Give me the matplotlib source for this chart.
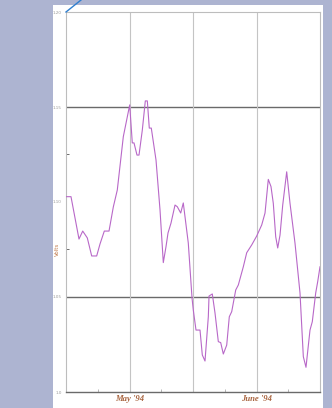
import matplotlib
matplotlib.use("Agg")
import matplotlib.pyplot as plt
from matplotlib.patches import Rectangle
from matplotlib.lines import Line2D

# Daily readings, day 0 = mid April 1994
days = [0.0, 1.22, 3.17, 4.08, 5.20, 6.27, 7.49, 8.30, 9.35, 10.50,
        11.55, 12.52, 13.99, 15.55, 16.18, 16.60, 17.33, 17.82, 18.63, 19.36,
        19.85, 20.33, 20.82, 21.97, 22.95, 23.75, 24.41, 24.90, 25.63, 26.61,
        27.17, 28.00, 28.63, 29.85, 30.76, 31.07, 31.73, 32.71, 33.27, 33.93,
        34.74, 34.91, 35.71, 36.37, 37.18, 37.76, 38.40, 39.23, 39.86, 40.45,
        41.43, 42.06, 43.28, 44.11, 45.33, 46.55, 47.77, 48.58, 49.38, 50.04,
        50.60, 51.19, 51.68, 52.24, 52.90, 53.87, 54.68, 55.90, 57.12, 57.93,
        58.58, 59.56, 60.12, 60.95, 61.44, 62.00]
volts = [1.1028, 1.1028, 1.0805, 1.0847, 1.0811, 1.0716, 1.0716, 1.0779, 1.0847, 1.0847,
         1.0974, 1.1063, 1.1344, 1.1511, 1.1311, 1.1311, 1.1247, 1.1247, 1.1379, 1.1532,
         1.1532, 1.1389, 1.1389, 1.1221, 1.0958, 1.0681, 1.0765, 1.0837, 1.0889, 1.0984,
         1.0975, 1.0942, 1.0995, 1.0784, 1.0495, 1.0432, 1.0326, 1.0326, 1.0195, 1.0163,
         1.0396, 1.0505, 1.0516, 1.0416, 1.0265, 1.0260, 1.0200, 1.0247, 1.0396, 1.0423,
         1.0537, 1.0563, 1.0659, 1.0733, 1.0774, 1.0821, 1.0879, 1.0942, 1.1119, 1.1081,
         1.0993, 1.0817, 1.0758, 1.0826, 1.0984, 1.1159, 1.0993, 1.0783, 1.0521, 1.0186,
         1.0130, 1.0326, 1.0370, 1.0521, 1.0581, 1.0659]

y_ticks = [1.00, 1.05, 1.10, 1.15, 1.20]
y_tick_labels = ["1.0", "1.05", "1.10", "1.15", "1.20"]
y_minor = [1.075, 1.125]
x_major = [15.5, 31.0, 46.5]
x_minor = [7.75, 23.25, 38.75, 54.25]
month_pos = [15.5, 46.5]
month_labels = ["May '94", "June '94"]

W, H = 332, 408
fig = plt.figure(figsize=(W / 100, H / 100), dpi=100)
fig.patch.set_facecolor("#adb4d1")

# white card behind the chart
fig.add_artist(Rectangle((53 / W, 0), (323 - 53) / W, (408 - 5) / H,
                         transform=fig.transFigure, facecolor="white",
                         edgecolor="none", zorder=0))

ax = fig.add_axes([66 / W, 16 / H, (320 - 66) / W, (392 - 12) / H])
ax.set_facecolor("white")
ax.set_xlim(0, 62)
ax.set_ylim(1.00, 1.20)

# reference lines
for yv in (1.05, 1.15):
    ax.axhline(yv, color="#6a6a6a", lw=1.0, zorder=1)
for xv in x_major:
    ax.axvline(xv, color="#c4c4c4", lw=0.8, zorder=1)

ax.plot(days, volts, color="#b868c8", lw=0.8, zorder=3)

for side in ("left", "right", "top"):
    ax.spines[side].set_color("#bdbdbd")
    ax.spines[side].set_linewidth(0.8)
ax.spines["bottom"].set_color("#6a6a6a")
ax.spines["bottom"].set_linewidth(1.0)

ax.set_yticks(y_ticks)
ax.set_yticklabels(y_tick_labels)
ax.set_yticks(y_minor, minor=True)
ax.tick_params(axis="y", which="major", length=0, labelsize=3, labelcolor="#9a9a9a", pad=3)
ax.tick_params(axis="y", which="minor", length=2, direction="in", color="#555555", width=0.6)

ax.set_xticks(month_pos)
ax.set_xticklabels(month_labels, fontfamily="Liberation Serif", fontstyle="italic",
                   fontweight="bold", fontsize=6.2, color="#a8643f")
ax.set_xticks(x_minor, minor=True)
ax.tick_params(axis="x", which="major", length=0, pad=2)
ax.tick_params(axis="x", which="minor", length=2, direction="in", color="#9a9a9a", width=0.5)

ax.set_ylabel("Volts", fontsize=4, color="#c07a4c", labelpad=1)
ax.yaxis.set_label_coords(-0.022, 0.375)

# pointer stroke leaving the top-left corner
fig.add_artist(Line2D([66 / W, 81 / W], [(408 - 12) / H, 1.0],
                      transform=fig.transFigure, color="#2f7fcf", lw=1.0))

fig.savefig("out.png", dpi=100, facecolor=fig.get_facecolor())
